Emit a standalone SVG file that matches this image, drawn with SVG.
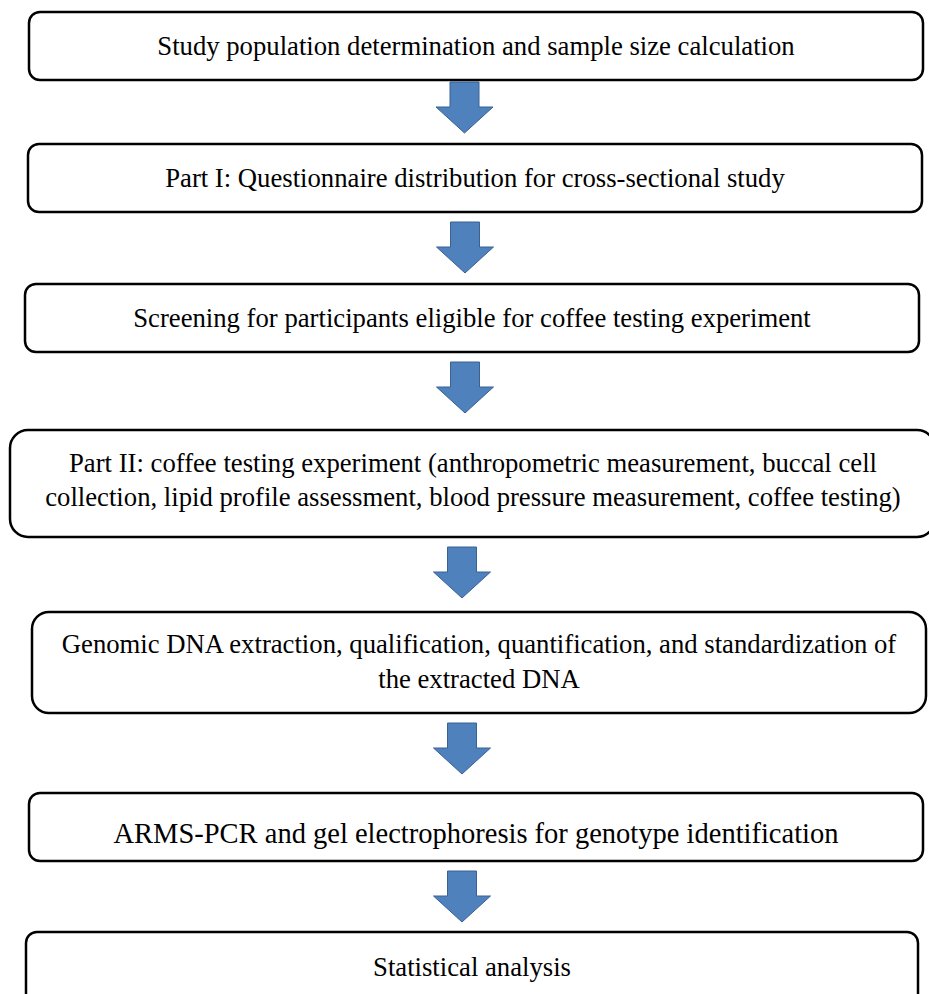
<svg xmlns="http://www.w3.org/2000/svg" xmlns:xlink="http://www.w3.org/1999/xlink" width="929" height="994" viewBox="0 0 929 994">
<style>
.box{fill:#ffffff;stroke:#000000;stroke-width:2.5}
.t{font-family:"Liberation Serif","Times New Roman",serif;font-size:26.7px;fill:#000000;text-anchor:middle}
.arr{fill:#4F81BD;stroke:#3A6193;stroke-width:1}
</style>
<defs>
<path id="down" d="M-14.5,0 H14.5 V25 H28.5 L0,51 L-28.5,25 H-14.5 Z"/>
</defs>
<rect width="929" height="994" fill="#ffffff"/>
<g id="connectors">
<use xlink:href="#down" class="arr" transform="translate(464.5,82)"/>
<use xlink:href="#down" class="arr" transform="translate(465,222)"/>
<use xlink:href="#down" class="arr" transform="translate(465,362)"/>
<use xlink:href="#down" class="arr" transform="translate(462,547)"/>
<use xlink:href="#down" class="arr" transform="translate(462,723)"/>
<use xlink:href="#down" class="arr" transform="translate(462,871)"/>
</g>
<g id="n1">
<rect class="box" x="29" y="12" width="894" height="68" rx="11"/>
<text class="t" x="476" y="55">Study population determination and sample size calculation</text>
</g>
<g id="n2">
<rect class="box" x="28" y="144" width="894" height="68" rx="11"/>
<text class="t" x="475" y="187">Part I: Questionnaire distribution for cross-sectional study</text>
</g>
<g id="n3">
<rect class="box" x="25" y="284" width="894" height="68" rx="11"/>
<text class="t" x="472" y="327">Screening for participants eligible for coffee testing experiment</text>
</g>
<g id="n4">
<rect class="box" x="10" y="430" width="925" height="107" rx="18"/>
<text class="t" x="473" y="472">Part II: coffee testing experiment (anthropometric measurement, buccal cell</text>
<text class="t" x="473" y="506">collection, lipid profile assessment, blood pressure measurement, coffee testing)</text>
</g>
<g id="n5">
<rect class="box" x="32" y="612" width="894" height="101" rx="17"/>
<text class="t" x="479" y="653">Genomic DNA extraction, qualification, quantification, and standardization of</text>
<text class="t" x="479" y="688">the extracted DNA</text>
</g>
<g id="n6">
<rect class="box" x="29" y="793" width="894" height="68" rx="11"/>
<text class="t" x="476" y="843" style="font-size:28.5px">ARMS-PCR and gel electrophoresis for genotype identification</text>
</g>
<g id="n7">
<rect class="box" x="26" y="932" width="892" height="80" rx="11"/>
<text class="t" x="472" y="976">Statistical analysis</text>
</g>
</svg>
